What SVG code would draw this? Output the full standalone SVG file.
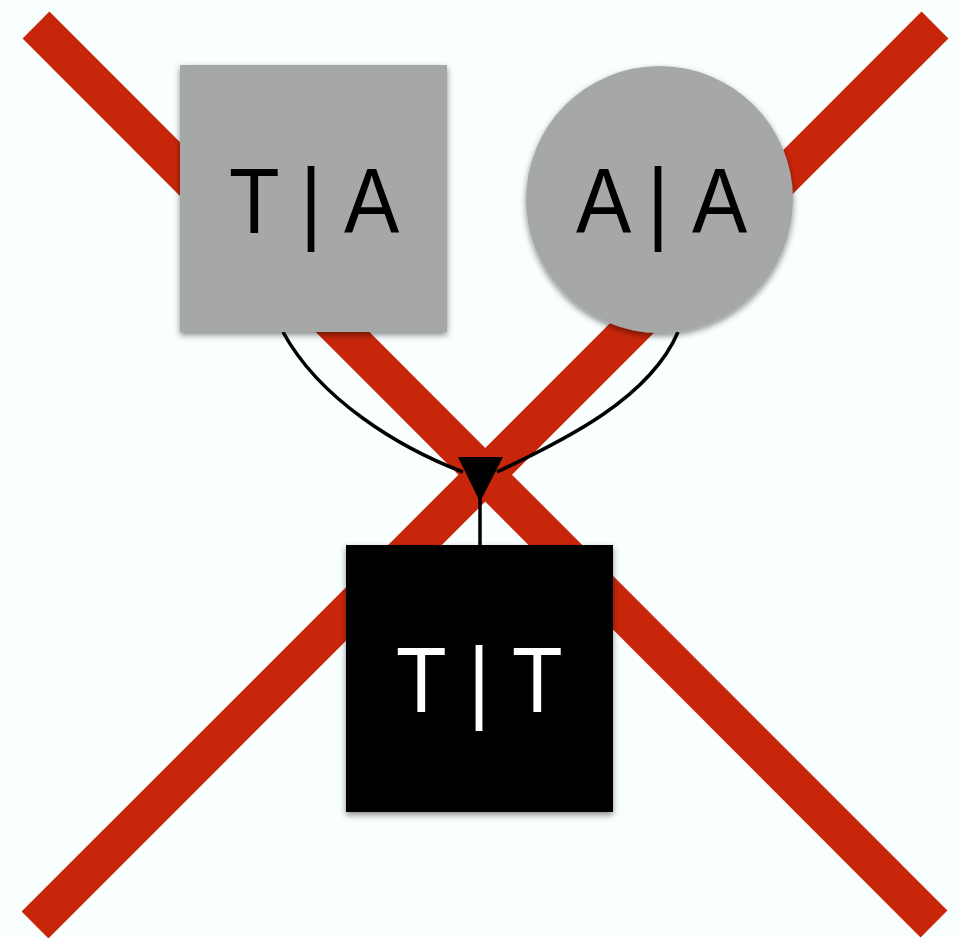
<svg xmlns="http://www.w3.org/2000/svg" width="958" height="938" viewBox="0 0 958 938">
<style>
.bar{stroke:#c8260a;stroke-width:38;stroke-linecap:butt;fill:none}
.gray{fill:#a5a8a7}
.lbl{font-family:"Liberation Sans",Arial,sans-serif;font-size:92px}
.conn{stroke:#000;stroke-width:3.5;fill:none}
</style>
<defs>
<filter id="sh" x="-10%" y="-10%" width="120%" height="125%">
<feDropShadow dx="0" dy="3" stdDeviation="3" flood-color="#000" flood-opacity="0.45"/>
</filter>
</defs>
<rect width="958" height="938" fill="#f9fefe"/>
<g id="cross">
<line class="bar" x1="36" y1="25" x2="934" y2="924"/>
<line class="bar" x1="35" y1="925" x2="935" y2="25"/>
</g>
<g id="connectors">
<path class="conn" d="M283,332 C320,400 400,448 463,472"/>
<path class="conn" d="M678,332 C650,398 565,440 497,472"/>
<line class="conn" x1="480" y1="498" x2="480" y2="546"/>
<polygon points="458,457 503,457 480,502" fill="#000"/>
</g>
<g id="node-TA">
<rect class="gray" x="180" y="65" width="267" height="267" filter="url(#sh)"/>
<text class="lbl" transform="scale(0.9,1)" x="254.4 333.7 382.2" y="233" fill="#000">T|A</text>
</g>
<g id="node-AA">
<circle class="gray" cx="659.5" cy="199.5" r="133.5" filter="url(#sh)"/>
<text class="lbl" transform="scale(0.9,1)" x="640 719.2 768.9" y="233" fill="#000">A|A</text>
</g>
<g id="node-TT">
<rect x="346" y="545" width="267" height="267" fill="#000" filter="url(#sh)"/>
<text class="lbl" transform="scale(0.9,1)" x="440.1 520.3 569" y="712" fill="#fff">T|T</text>
</g>
</svg>
